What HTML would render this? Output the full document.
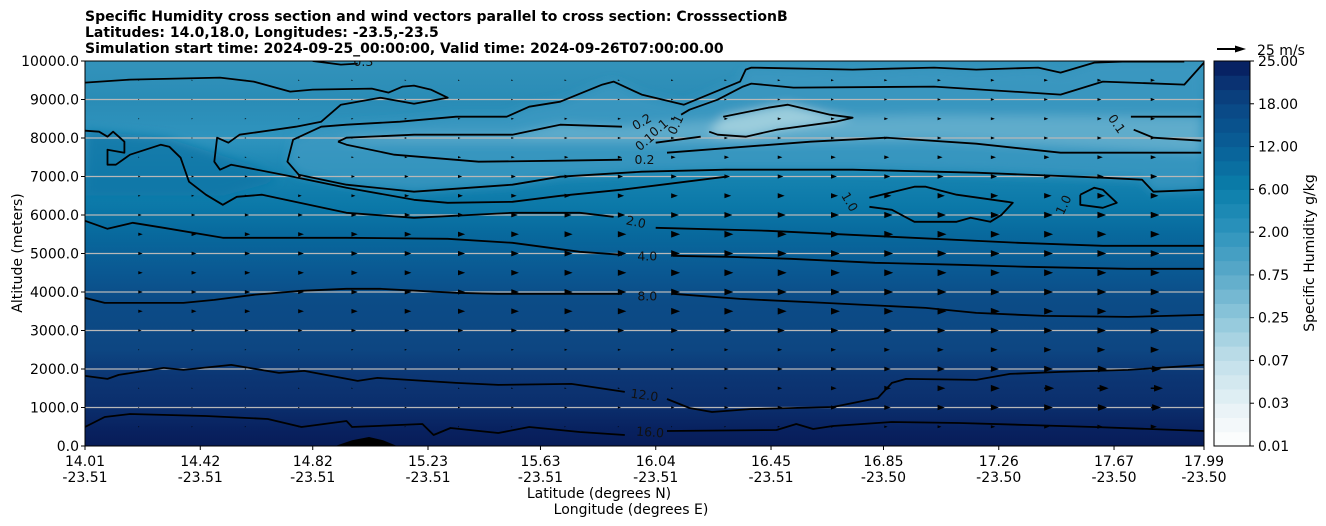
<!DOCTYPE html>
<html><head><meta charset="utf-8"><style>
html,body{margin:0;padding:0;background:#fff;}
svg{display:block;font-family:"DejaVu Sans","Liberation Sans",sans-serif;}
</style></head><body>
<svg id="chart" width="1326" height="526" viewBox="0 0 1326 526" xmlns="http://www.w3.org/2000/svg">
<defs>
<linearGradient id="bgGrad" x1="0" y1="0" x2="0" y2="1">
<stop offset="0" stop-color="#3393bb"/>
<stop offset="0.1" stop-color="#2a8cb6"/>
<stop offset="0.2" stop-color="#2f94be"/>
<stop offset="0.3" stop-color="#1683b0"/>
<stop offset="0.38" stop-color="#0b78a8"/>
<stop offset="0.45" stop-color="#08699d"/>
<stop offset="0.55" stop-color="#0a5892"/>
<stop offset="0.62" stop-color="#0c4c87"/>
<stop offset="0.75" stop-color="#0d4682"/>
<stop offset="0.82" stop-color="#0c3674"/>
<stop offset="0.9" stop-color="#0b2e6c"/>
<stop offset="0.96" stop-color="#08215f"/>
<stop offset="1" stop-color="#071c58"/>
</linearGradient>
<clipPath id="plotClip"><rect x="85" y="61" width="1119" height="385"/></clipPath>
<filter id="soft" x="-10%" y="-50%" width="120%" height="200%"><feGaussianBlur stdDeviation="5"/></filter>
</defs>
<g font-weight="bold" font-size="14" fill="#000">
<text x="85" y="21">Specific Humidity cross section and wind vectors parallel to cross section: CrosssectionB</text>
<text x="85" y="37">Latitudes: 14.0,18.0, Longitudes: -23.5,-23.5</text>
<text x="85" y="53">Simulation start time: 2024-09-25_00:00:00, Valid time: 2024-09-26T07:00:00.00</text>
</g>
<g id="plot" clip-path="url(#plotClip)">
<rect x="85" y="61" width="1119" height="385" fill="url(#bgGrad)"/>
<g id="fills" filter="url(#soft)"></g>
<g id="grid"></g>
<g id="terrain"></g>
<g id="arrows"></g>
<g id="contours"></g>
<g id="clabels"></g>
</g>
<rect x="85" y="61" width="1119" height="385" fill="none" stroke="#000" stroke-width="1"/>
<g id="axes"></g>
<g id="colorbar"></g>
<g>
<line x1="1217" y1="49" x2="1236" y2="49" stroke="#000" stroke-width="2"/>
<polygon points="1246,49 1235,45.5 1235,52.5" fill="#000"/>
<text x="1257" y="55" font-size="14">25 m/s</text>
</g>
</svg>
<script>
// ---------- data ----------
const yTickVals = [0,1000,2000,3000,4000,5000,6000,7000,8000,9000,10000];
const xTickLats = [14.01,14.42,14.82,15.23,15.63,16.04,16.45,16.85,17.26,17.67,17.99];
const xTickLons = ["-23.51","-23.51","-23.51","-23.51","-23.51","-23.51","-23.51","-23.50","-23.50","-23.50","-23.50"];
const cbTickLabels = ["0.01","0.03","0.07","0.25","0.75","2.00","6.00","12.00","18.00","25.00"];

const rowAlts = [500,1000,1500,2000,2500,3000,3500,4000,4500,5000,5500,6000,6500,7000,7500,8000,8500,9000,9500];
const spdLeft  = [1,1,1,1,1,3,4,4,4,4,4,3,2,2,1,1,1,1,1];
const spdMid   = [1,3,2,3,3,6,8,8,8,8,8,7,6,5,4,3,3,2,2];
const spdRight = [6,10,12,10,8,8,8,8,8,8,8,8,7,6,5,4,4,4,4];

const c16Lat = [14.01,14.08,14.17,14.44,14.66,14.78,14.94,14.96,15.21,15.25,15.31,15.48,15.59,15.77,15.93,null,16.08,16.47,16.54,16.60,16.67,16.88,17.12,17.36,17.60,17.99];
const c16Alt = [494,754,832,780,702,494,650,494,572,286,468,338,494,364,286,null,390,416,572,442,520,624,598,546,494,390];
const c12Lat = [14.01,14.09,14.13,14.29,14.36,14.53,14.70,14.79,14.98,15.05,15.33,15.48,15.74,15.93,null,16.08,16.16,16.24,16.38,16.67,16.83,16.88,16.93,17.18,17.30,17.48,17.72,17.99];
const c12Alt = [1820,1742,1846,2028,1976,2106,1898,1950,1690,1768,1638,1586,1612,1404,null,1222,988,884,962,1014,1248,1638,1742,1716,1872,1924,1976,2106];
const c8Lat = [14.01,14.08,14.21,14.36,14.47,14.61,14.78,14.94,15.06,15.33,15.48,15.92,null,16.10,16.34,16.64,17.00,17.18,17.42,17.72,17.99];
const c8Alt = [3848,3718,3718,3718,3796,3926,4030,4082,4082,3978,3952,3952,null,3952,3822,3718,3588,3458,3380,3354,3406];
const c4Lat = [14.01,14.09,14.18,14.29,14.50,14.94,15.30,15.53,15.77,15.92,null,16.10,16.30,16.52,16.82,17.12,17.36,17.72,17.99];
const c4Alt = [5850,5642,5798,5668,5408,5408,5382,5278,5044,4966,null,4940,4914,4862,4758,4706,4654,4602,4602];
const c2Lat = [14.01,14.06,14.09,14.11,14.15,14.15,14.09,14.09,14.12,14.17,14.28,14.31,14.35,14.38,14.44,14.50,14.55,14.64,14.94,15.18,15.53,15.77,15.89,null,16.04,16.44,16.88,17.33,17.63,17.99];
const c2Alt = [8190,8164,8034,8164,7904,7618,7696,7306,7306,7566,7826,7774,7488,6864,6526,6266,6474,6526,6058,5928,6058,6058,5954,null,5668,5590,5434,5278,5200,5200];
const cAlat = [14.01,14.17,14.49,14.61,14.74,14.82,15.03,15.09,15.14,15.18,15.24,15.30,15.18,15.06,14.92,14.85,14.76,14.56,14.52,14.48,14.47,14.49,14.53,14.75,14.94,15.18,15.30,15.53,15.70,15.92,16.29];
const cAalt = [9438,9516,9568,9464,9204,9256,9282,9178,9334,9360,9256,9048,8892,9048,8866,8424,8294,8086,7878,8008,7384,7176,7306,6994,6708,6396,6318,6344,6500,6656,6994];
const cWlat = [17.92,17.70,17.60,17.48,17.40,17.18,17.03,16.74,16.38,16.36,16.34,16.14,15.99,15.89,15.85,15.70,15.59,15.51,15.33,15.13,14.94,14.85,14.75,14.73,14.77,14.94,15.18,15.53,15.70,15.99,16.29,16.74,17.18,17.63,17.77,17.81,17.99];
const cWalt = [9984,9984,9958,9698,9828,9776,9828,9776,9828,9776,9464,8866,9126,9464,9386,8944,8814,8554,8554,8424,8346,8294,7956,7384,7046,6786,6604,6786,6994,7124,7176,7176,7098,6968,6916,6604,6656];
const cT2lat = [17.99,17.92,17.63,17.48,17.03,16.53,16.38,16.35,16.26,16.16,16.13];
const cT2alt = [9958,9386,9464,9126,9334,9308,9412,9334,8996,8736,8606];
const cTuLat = [14.91,14.94,15.18,15.53,15.70,15.92];
const cTuAlt = [7904,8008,8086,8086,8346,8294];
const cTlLat = [14.91,14.94,15.11,15.41,15.70,15.92,null,16.08,16.59,16.86,17.18,17.48,17.98];
const cTlAlt = [7904,7826,7566,7384,7410,7436,null,7618,7904,8008,7852,7618,7618];
const c01Lat = [16.28,16.44,16.51,16.66,16.74,16.68,16.47,16.36,16.26,16.23];
const c01Alt = [8554,8788,8866,8606,8528,8424,8216,8034,8086,8164];
const cSlat = [16.04,16.20];
const cSalt = [7878,8034];
const cR1lat = [17.73,17.98];
const cR1alt = [8554,8554];
const cR2lat = [17.74,17.81,17.98];
const cR2alt = [8216,8008,7930];
const cL1lat = [16.80,16.96,17.00,17.11,17.29,17.31,17.27,17.23,17.16,17.11,16.96,16.88,16.80];
const cL1alt = [6448,6734,6734,6526,6344,6318,6006,5824,5928,5824,5824,6136,6214];
const cL2lat = [17.55,17.60,17.63,17.68,17.63,17.55,17.55];
const cL2alt = [6526,6708,6656,6318,6188,6266,6526];
const c03Lat = [14.82,14.92,14.98];
const c03Alt = [10000,9906,9932];

const labelText = ["16.0","12.0","8.0","4.0","2.0","0.2","0.2","0.1","0.1","0.1","1.0","1.0","0.1","0.3"];
const labelLat  = [16.02,16.00,16.01,16.01,15.97,16.00,15.99,16.00,16.05,16.11,16.73,17.49,17.68,15.00];
const labelAlt  = [364,1326,3900,4940,5824,7436,8424,7904,8268,8346,6344,6266,8372,9984];
const labelRot  = [4,8,0,0,12,0,-30,-40,-40,-65,60,-65,55,0];

const terrainLat = [14.90,14.96,15.02,15.07,15.12];
const terrainAlt = [0,150,234,150,0];

// ---------- scales ----------
const X = lat => 85 + (lat - 14.01) / 3.98 * 1119;
const Y = alt => 446 - alt / 10000 * 385;
const NS = "http://www.w3.org/2000/svg";
function mk(tag, attrs, parent){ const e=document.createElementNS(NS,tag); for(const k in attrs) e.setAttribute(k,attrs[k]); parent.appendChild(e); return e; }
function pathD(lats, alts, close){
  let d="", pen=false;
  for(let i=0;i<lats.length;i++){
    if(lats[i]===null){pen=false;continue;}
    d += (pen?"L":"M") + X(lats[i]).toFixed(1) + "," + Y(alts[i]).toFixed(1) + " ";
    pen=true;
  }
  return close ? d+"Z" : d;
}

// ---------- fills ----------
const fills = document.getElementById('fills');
let f1 = mk('path',{d:pathD(cWlat.concat([17.99]),cWalt.concat([10000]),true),fill:'#3c9ac2','fill-opacity':'0.75'},fills);


let f2 = mk('path',{d:pathD(cTuLat.concat([16.3,17.0,17.98,17.98,17.0,16.5]),cTuAlt.concat([8500,8600,8550,7620,7950,7900]),true),fill:'#63aecd','fill-opacity':'0.9'},fills);


let f3 = mk('path',{d:pathD(c01Lat,c01Alt,true),fill:'#9bcddd'},fills);


let f4 = mk('path',{d:pathD([14.01,14.3,14.6,14.7,14.5,14.01],[8200,8000,7300,6900,6500,6500],true),fill:'#0c76a6','fill-opacity':'0.8'},fills);



// ---------- grid ----------
const grid = document.getElementById('grid');
yTickVals.slice(1,-1).forEach(v=>{
  const l = mk('line',{x1:85,x2:1204,y1:Y(v),y2:Y(v),stroke:'#b8b8b8','stroke-width':1.2},grid);
  
  
});

// ---------- terrain ----------
const ter = mk('path',{d:pathD(terrainLat,terrainAlt,true),fill:'#000'},document.getElementById('terrain'));



// ---------- arrows ----------
const arrows = document.getElementById('arrows');
const nCols = 21;
for(let k=0;k<nCols;k++){
  const lat = 14.01 + (k+1)*3.98/21;
  const t = k/(nCols-1);
  rowAlts.forEach((alt,i)=>{
    const s = t<0.5 ? spdLeft[i]+(spdMid[i]-spdLeft[i])*(t/0.5) : spdMid[i]+(spdRight[i]-spdMid[i])*((t-0.5)/0.5);
    const L = s*1.12;
    const x0 = X(lat), y0 = Y(alt);
    let d;
    if(L<=9){
      const h = Math.max(L*0.37,0.6);
      d = `M${x0},${y0-h} L${x0+L},${y0} L${x0},${y0+h} Z`;
    } else {
      const hs=0.8, hh=3.4, hl=9;
      d = `M${x0},${y0-hs} L${x0+L-hl},${y0-hs} L${x0+L-hl},${y0-hh} L${x0+L},${y0} L${x0+L-hl},${y0+hh} L${x0+L-hl},${y0+hs} L${x0},${y0+hs} Z`;
    }
    const a = mk('path',{d:d,fill:'#000'},arrows);
    
    
  });
}

// ---------- contours ----------
const cg = document.getElementById('contours');
const contourSets = [
  ['contour-16',c16Lat,c16Alt],['contour-12',c12Lat,c12Alt],['contour-8',c8Lat,c8Alt],
  ['contour-4',c4Lat,c4Alt],['contour-2',c2Lat,c2Alt],['contour-upper-left',cAlat,cAalt],
  ['contour-0-5',cWlat,cWalt],['contour-upper-right',cT2lat,cT2alt],['contour-0-2-upper',cTuLat,cTuAlt],
  ['contour-0-2-lower',cTlLat,cTlAlt],['contour-0-1',c01Lat,c01Alt],['contour-short',cSlat,cSalt],
  ['contour-0-1-right-a',cR1lat,cR1alt],['contour-0-1-right-b',cR2lat,cR2alt],
  ['contour-1-loop',cL1lat,cL1alt],['contour-1-loop-small',cL2lat,cL2alt],['contour-0-3',c03Lat,c03Alt]
];
contourSets.forEach(c=>{
  const p = mk('path',{d:pathD(c[1],c[2],false),fill:'none',stroke:'#000','stroke-width':1.8,'stroke-linejoin':'round'},cg);
  
  
});
const lg = document.getElementById('clabels');
labelText.forEach((txt,i)=>{
  const x=X(labelLat[i]), y=Y(labelAlt[i]);
  const t = mk('text',{x:x,y:y,'font-size':12.5,'text-anchor':'middle','dominant-baseline':'central',fill:'#111',transform:`rotate(${labelRot[i]} ${x} ${y})`},lg);
  t.textContent = txt;
  
  
});

// ---------- axes ----------
const ax = document.getElementById('axes');
yTickVals.forEach(v=>{
  const y=Y(v);
  const tk = mk('line',{x1:81,x2:85,y1:y,y2:y,stroke:'#000'},ax);
  
  
  const t = mk('text',{x:79,y:y+5,'font-size':14,'text-anchor':'end'},ax);
  t.textContent = v.toFixed(1);
  
  
});
xTickLats.forEach((lat,i)=>{
  const x=X(lat);
  const tk = mk('line',{x1:x,x2:x,y1:446,y2:450,stroke:'#000'},ax);
  
  
  const t1 = mk('text',{x:x,y:466,'font-size':14,'text-anchor':'middle'},ax);
  t1.textContent = lat.toFixed(2);
  
  
  const t2 = mk('text',{x:x,y:482,'font-size':14,'text-anchor':'middle'},ax);
  t2.textContent = xTickLons[i];
  
  
});
const xl1 = mk('text',{x:599,y:498,'font-size':14,'text-anchor':'middle'},ax);
xl1.textContent='Latitude (degrees N)';


const xl2 = mk('text',{x:631,y:514,'font-size':14,'text-anchor':'middle'},ax);
xl2.textContent='Longitude (degrees E)';


const yl = mk('text',{x:22,y:253,'font-size':14,'text-anchor':'middle',transform:'rotate(-90 22 253)'},ax);
yl.textContent='Altitude (meters)';



// ---------- colorbar ----------
const cb = document.getElementById('colorbar');
const anchors = [[0,'#ffffff'],[0.08,'#eef5f8'],[0.22,'#c2e0ea'],[0.33,'#90c8db'],[0.44,'#5eabca'],[0.56,'#2c93bc'],[0.67,'#0a7eaa'],[0.78,'#095f97'],[0.89,'#0a4583'],[0.95,'#0a3070'],[1,'#061a5c']];
function hex(c){return [1,3,5].map(i=>parseInt(c.substr(i,2),16));}
function colAt(t){
  for(let i=1;i<anchors.length;i++){
    if(t<=anchors[i][0]){
      const a=anchors[i-1], b=anchors[i], u=(t-a[0])/(b[0]-a[0]);
      const ca=hex(a[1]), cbb=hex(b[1]);
      return 'rgb('+ca.map((v,j)=>Math.round(v+(cbb[j]-v)*u)).join(',')+')';
    }
  }
  return anchors[anchors.length-1][1];
}
const nBands=27, cbTop=61, cbBot=446, cbH=(cbBot-cbTop)/nBands;
for(let i=0;i<nBands;i++){
  const r = mk('rect',{x:1214,y:cbBot-(i+1)*cbH,width:36,height:cbH+0.5,fill:colAt((i+0.5)/nBands)},cb);
  
  
}
const cbf = mk('rect',{x:1214,y:61,width:36,height:385,fill:'none',stroke:'#000'},cb);


cbTickLabels.forEach((lab,i)=>{
  const y = cbBot - i*(cbBot-cbTop)/(cbTickLabels.length-1);
  const tk = mk('line',{x1:1250,x2:1254,y1:y,y2:y,stroke:'#000'},cb);
  
  
  const t = mk('text',{x:1258,y:y+5,'font-size':14},cb);
  t.textContent = lab;
  
  
});
const cbl = mk('text',{x:1314,y:253,'font-size':14,'text-anchor':'middle',transform:'rotate(-90 1314 253)'},cb);
cbl.textContent='Specific Humidity g/kg';


</script>
</body></html>
